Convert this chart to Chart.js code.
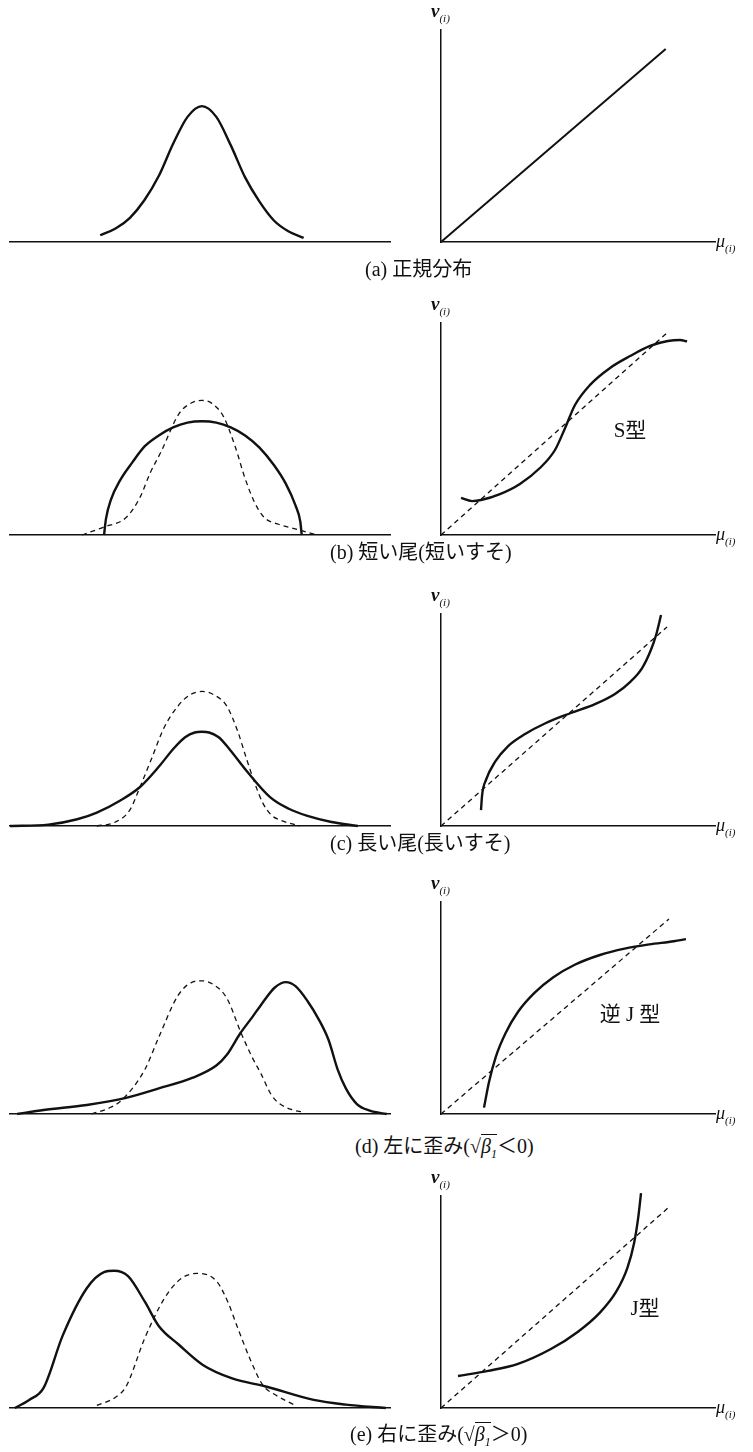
<!DOCTYPE html>
<html>
<head>
<meta charset="utf-8">
<script src="https://cdn.jsdelivr.net/npm/chart.js@4"></script>
<style>
body { margin: 0; background: #fff; width: 753px; height: 1452px; position: relative; overflow: hidden; color: #111;
       font-family: "Liberation Serif", "Noto Sans CJK JP", serif; }
canvas { position: absolute; }
.lbl { position: absolute; font-style: italic; font-weight: bold; font-size: 19px; font-family: "Liberation Serif", serif; white-space: nowrap; }
.lbl.mu { font-weight: normal; font-size: 18px; }
.lbl sub { font-size: 11px; font-weight: normal; }
.cap { position: absolute; font-size: 20px; white-space: nowrap; transform: translateY(-50%); }
.cap sub { font-size: 12px; font-style: italic; }
.rad { border-top: 1px solid #111; font-style: italic; }
.type { position: absolute; font-size: 21px; white-space: nowrap; transform: translate(-50%, -50%); }
</style>
</head>
<body>
<script>
// 左: 分布の形 (x = 標準化した値, y = 正規分布の山を 1 とした高さ)
const normalA = [[-2.12,0.05],[-1.8,0.1],[-1.5,0.18],[-1.2,0.31],[-0.9,0.49],[-0.6,0.73],[-0.3,0.93],[0,1.01],[0.3,0.93],[0.6,0.72],[0.9,0.48],[1.2,0.3],[1.5,0.16],[1.8,0.08],[2.12,0.03]];

const shortSolid = [[-2.04,0],[-2.0,0.12],[-1.9,0.26],[-1.7,0.41],[-1.45,0.54],[-1.19,0.66],[-0.9,0.74],[-0.6,0.8],[-0.3,0.835],[0,0.845],[0.3,0.835],[0.6,0.8],[0.9,0.74],[1.2,0.65],[1.5,0.52],[1.75,0.38],[1.95,0.22],[2.05,0.1],[2.08,0]];
const shortDash = [[-2.5,0],[-2.04,0.06],[-1.58,0.13],[-1.29,0.28],[-1.08,0.46],[-0.85,0.62],[-0.48,0.9],[-0.2,0.985],[0,1.0],[0.2,0.98],[0.45,0.88],[0.7,0.65],[0.9,0.42],[1.1,0.24],[1.3,0.13],[1.6,0.08],[1.9,0.05],[2.4,0]];

const longSolid = [[-4,0],[-3.2,0.01],[-2.6,0.05],[-2.19,0.1],[-1.7,0.19],[-1.29,0.29],[-0.9,0.44],[-0.58,0.58],[-0.35,0.66],[-0.15,0.695],[0,0.7],[0.15,0.695],[0.35,0.66],[0.6,0.56],[0.92,0.415],[1.42,0.215],[1.8,0.13],[2.2,0.075],[2.7,0.03],[3.25,0]];
const longDash = [[-2.19,0],[-1.8,0.03],[-1.5,0.12],[-1.29,0.29],[-1.05,0.5],[-0.79,0.73],[-0.48,0.9],[-0.25,0.975],[0,1.0],[0.25,0.975],[0.52,0.89],[0.75,0.7],[0.92,0.51],[1.1,0.32],[1.27,0.17],[1.45,0.08],[1.63,0.044],[2.04,0]];

const leftSkewSolid = [[-3.85,0],[-3.3,0.03],[-2.4,0.067],[-1.58,0.12],[-0.9,0.19],[-0.19,0.27],[0.3,0.36],[0.52,0.44],[0.8,0.6],[1.05,0.72],[1.25,0.82],[1.52,0.94],[1.75,0.98],[1.95,0.95],[2.2,0.84],[2.44,0.7],[2.64,0.55],[2.83,0.33],[3.0,0.19],[3.23,0.074],[3.5,0.025],[3.85,0]];
const leftSkewDash = [[-2.3,0],[-1.9,0.05],[-1.65,0.11],[-1.19,0.33],[-0.9,0.57],[-0.5,0.88],[-0.2,0.98],[0,0.99],[0.25,0.96],[0.52,0.86],[0.83,0.59],[1.05,0.42],[1.23,0.3],[1.45,0.14],[1.63,0.074],[1.9,0.03],[2.1,0.015]];

const rightSkewSolid = [[-3.9,0],[-3.6,0.06],[-3.3,0.15],[-2.9,0.54],[-2.4,0.89],[-2.04,1.01],[-1.83,1.02],[-1.54,0.98],[-1.19,0.79],[-0.9,0.61],[-0.48,0.47],[0.02,0.32],[0.63,0.22],[1.33,0.16],[2.33,0.06],[3.0,0.025],[3.83,0]];
const rightSkewDash = [[-2.19,0.02],[-1.8,0.08],[-1.58,0.16],[-1.19,0.52],[-0.79,0.81],[-0.44,0.96],[-0.1,1.0],[0.31,0.94],[0.55,0.78],[0.73,0.61],[1.02,0.35],[1.27,0.17],[1.52,0.1],[1.94,0.02]];

// 右: 確率プロット (x = μ(i), y = v(i), 軸の長さを 1 とする)
const plotA = [[0,0],[0.82,0.91]];
const diagB = [[0,0],[0.832,0.962]];
const plotB = [[0.073,0.175],[0.113,0.16],[0.146,0.165],[0.215,0.193],[0.288,0.241],[0.361,0.316],[0.416,0.401],[0.453,0.505],[0.489,0.613],[0.544,0.708],[0.617,0.788],[0.69,0.844],[0.763,0.892],[0.828,0.915],[0.872,0.92],[0.898,0.913]];
const diagC = [[0,0],[0.825,0.939]];
const plotC = [[0.146,0.075],[0.15,0.146],[0.164,0.217],[0.197,0.302],[0.245,0.377],[0.307,0.434],[0.383,0.486],[0.474,0.533],[0.562,0.575],[0.635,0.623],[0.69,0.679],[0.734,0.745],[0.766,0.83],[0.785,0.901],[0.803,0.995]];
const diagD = [[0,0],[0.832,0.92]];
const plotD = [[0.157,0.03],[0.175,0.15],[0.2,0.27],[0.235,0.38],[0.28,0.48],[0.34,0.57],[0.41,0.645],[0.49,0.705],[0.58,0.75],[0.67,0.78],[0.76,0.8],[0.85,0.815],[0.894,0.825]];
const diagE = [[0,0],[0.828,0.943]];
const plotE = [[0.062,0.151],[0.172,0.175],[0.281,0.208],[0.401,0.278],[0.5,0.36],[0.58,0.45],[0.64,0.55],[0.68,0.66],[0.705,0.78],[0.72,0.9],[0.73,1.014]];

const captions = ["(a) 正規分布", "(b) 短い尾(短いすそ)", "(c) 長い尾(長いすそ)",
    "(d) 左に歪み(√<span class='rad'>β<sub>1</sub></span>＜0)", "(e) 右に歪み(√<span class='rad'>β<sub>1</sub></span>＞0)"];

// 配置
const rows = [
    { base: 242, capX: 365, capY: 267, left: [[normalA, false]], right: [[plotA, false, 2]] },
    { base: 535, capX: 330, capY: 550, left: [[shortSolid, false], [shortDash, true]], right: [[diagB, true], [plotB, false]], type: ["S型", 630, 428] },
    { base: 826, capX: 330, capY: 841, left: [[longSolid, false], [longDash, true]], right: [[diagC, true], [plotC, false]] },
    { base: 1114, capX: 355, capY: 1146, left: [[leftSkewSolid, false], [leftSkewDash, true]], right: [[diagD, true], [plotD, false]], type: ["逆 J 型", 630, 1012] },
    { base: 1408, capX: 350, capY: 1434, left: [[rightSkewSolid, false], [rightSkewDash, true]], right: [[diagE, true], [plotE, false]], type: ["J型", 645, 1306] }
];

const PAD = 14;

function toDataset([pts, dashed, w]) {
    return {
        data: pts.map(([x, y]) => ({ x, y })),
        showLine: true,
        borderColor: "#111",
        borderWidth: w || (dashed ? 1.3 : 2.4),
        borderDash: dashed ? [5, 4] : [],
        pointRadius: 0,
        cubicInterpolationMode: "monotone",
        clip: false
    };
}

function addChart(x, y, w, h, xr, yr, series, showY) {
    const c = document.createElement("canvas");
    c.width = w + PAD * 2;
    c.height = h + PAD * 2;
    c.style.left = (x - PAD) + "px";
    c.style.top = (y - PAD) + "px";
    document.body.appendChild(c);
    const axis = (range, show) => ({
        type: "linear", display: show, min: range[0], max: range[1],
        grid: { display: false, drawTicks: false },
        ticks: { display: false },
        border: { display: true, color: "#111", width: 1.5 }
    });
    new Chart(c, {
        type: "scatter",
        data: { datasets: series.map(toDataset) },
        options: {
            responsive: false, animation: false, devicePixelRatio: 1,
            layout: { padding: PAD },
            plugins: { legend: { display: false }, tooltip: { enabled: false } },
            scales: { x: axis(xr, true), y: axis(yr, showY) }
        }
    });
}

function addHtml(cls, html, left, top) {
    const d = document.createElement("div");
    d.className = cls;
    d.innerHTML = html;
    d.style.left = left + "px";
    d.style.top = top + "px";
    document.body.appendChild(d);
}

rows.forEach((r, i) => {
    // 左の分布: 横 10〜390px, 高さ 1 = 135px
    addChart(10, r.base - 148.5, 380, 148.5, [-4, 3.92], [0, 1.1], r.left, false);
    // 右のプロット: 原点 441px, 軸の長さ 274 x 212px
    addChart(441, r.base - 212, 274, 212, [0, 1], [0, 1], r.right, true);
    addHtml("lbl", "v<sub>(i)</sub>", 431, r.base - 242);
    addHtml("lbl mu", "μ<sub>(i)</sub>", 716, r.base - 11);
    addHtml("cap", captions[i], r.capX, r.capY);
    if (r.type) addHtml("type", r.type[0], r.type[1], r.type[2]);
});
</script>
</body>
</html>
